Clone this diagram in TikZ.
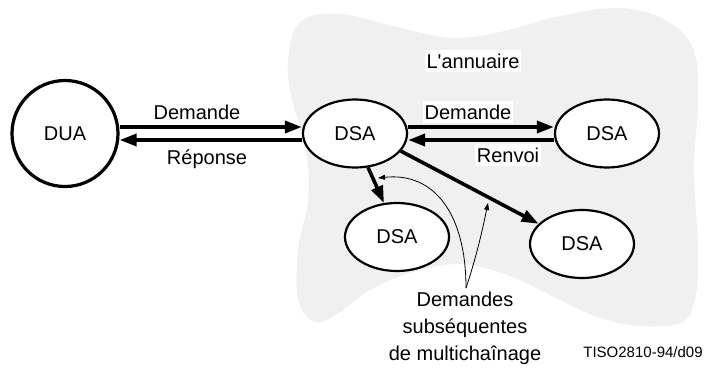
\documentclass[tikz,border=0pt]{standalone}
\usepackage{fontspec}
\setmainfont{Liberation Sans}
\usetikzlibrary{arrows.meta,shapes.geometric}
\definecolor{blobgray}{RGB}{240,240,240}
\begin{document}
\begin{tikzpicture}[x=1pt,y=-1pt,
  lbl/.style={font=\fontsize{20}{24}\selectfont, inner sep=0pt},
  boxlbl/.style={lbl, fill=white, inner xsep=2pt, inner ysep=4pt},
  dsanode/.style={draw, ellipse, fill=white, line width=2.2pt, minimum width=104pt, minimum height=68pt, inner sep=0pt, font=\fontsize{20}{24}\selectfont},
  duanode/.style={draw, circle, fill=white, line width=3.2pt, minimum size=106pt, inner sep=0pt, font=\fontsize{20}{24}\selectfont},
  big/.style={line width=3.6pt, -{Triangle[length=17pt,width=12pt]}},
  thinarrow/.style={line width=0.8pt, -{Triangle[length=7pt,width=5pt]}}]
\useasboundingbox (0,0) rectangle (706,367);
\fill[blobgray] plot[smooth cycle, tension=0.6] coordinates {
  (300,22) (340,14) (400,28) (452,38) (500,32) (560,16) (620,8) (665,20)
  (693,48) (698,100) (694,170) (698,250) (695,300) (680,323) (640,326)
  (600,318) (560,300) (510,276) (460,264) (410,273) (370,290) (340,312)
  (315,322) (298,300) (298,250) (308,200) (306,150) (292,100) (288,60)};
\node[duanode] (dua) at (65,133.5) {DUA};
\node[dsanode] (dsa) at (355,133.5) {DSA};
\node[dsanode] (dsaR) at (607,133.5) {DSA};
\node[dsanode] (dsaL) at (397,237) {DSA};
\node[dsanode] (dsaB) at (582,244) {DSA};
\node[boxlbl, anchor=base] (annu) at (473,68) {L\textquotesingle annuaire};
\node[lbl, anchor=base] (dem1) at (197,119) {Demande};
\node[lbl, anchor=base] (rep) at (207,164) {Réponse};
\node[boxlbl, anchor=base] (dem2) at (468,119) {Demande};
\node[boxlbl, anchor=base] (renv) at (508,162) {Renvoi};
\draw[big] ([yshift=6.5pt]dua.east) -- ([yshift=6.5pt]dsa.west);
\draw[big] ([yshift=-6.5pt]dsa.west) -- ([yshift=-6.5pt]dua.east);
\draw[big] ([yshift=6.5pt]dsa.east) -- ([yshift=6.5pt]dsaR.west);
\draw[big] ([yshift=-6.5pt]dsaR.west) -- ([yshift=-6.5pt]dsa.east);
\draw[big] (dsa.-69) -- (dsaL.111);
\draw[big] (dsa.-21) -- (dsaB.155);
\coordinate (annoA) at (466,288);
\coordinate (tipA) at (378,178);
\coordinate (tipB) at (488,203);
\draw[thinarrow] (annoA) .. controls (466,215) and (435,172) .. (tipA);
\draw[thinarrow] (annoA) .. controls (476,258) and (482,232) .. (tipB);
\node[lbl, align=center, anchor=north, font=\fontsize{20}{27}\selectfont] (note) at (465,292) {Demandes\\subséquentes\\de multichaînage};
\node[lbl, anchor=base, font=\fontsize{15}{18}\selectfont] (ref) at (643,357) {TISO2810-94/d09};
\end{tikzpicture}
\end{document}
